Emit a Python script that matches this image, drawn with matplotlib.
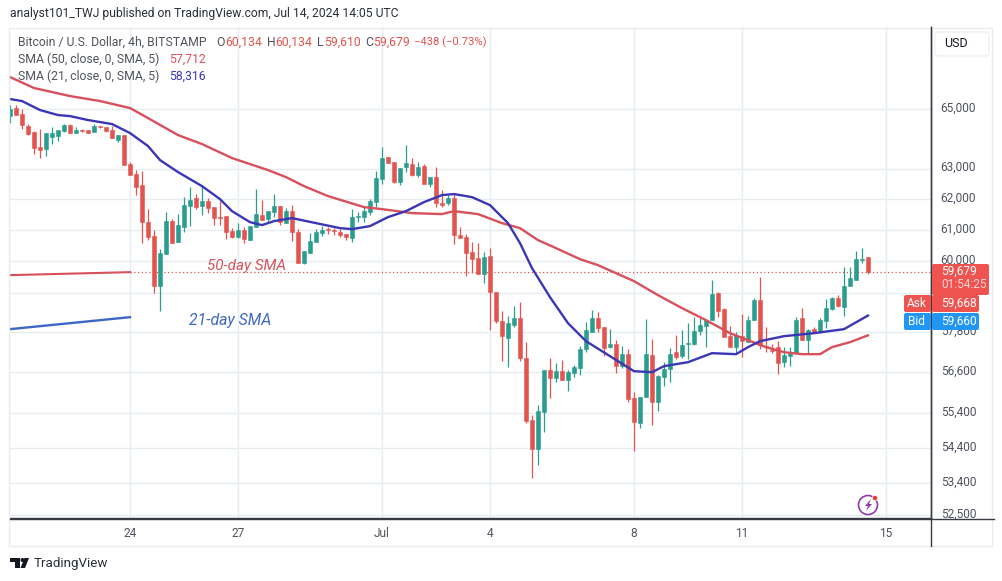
import matplotlib
matplotlib.use('Agg')
import matplotlib.pyplot as plt
from matplotlib.patches import Rectangle, FancyBboxPatch, Circle, Polygon
from matplotlib.lines import Line2D
from matplotlib.transforms import Affine2D, ScaledTranslation

# 4h bars, bar 0 is Jun 24 00:00, bar -20 is the first one visible
first_bar = -20
opens = [64762,65034,64830,64420,64218,63714,63647,64050,64084,64252,64455,64185,64286,64286,64218,64420,64387,64286,63949,64117,
         63147,62816,62454,61250,60800,59224,60228,61283,60610,61090,61768,62028,61768,61930,61735,61412,61444,60960,60770,60993,
         60673,61090,61476,61347,61573,61768,61218,61605,60930,59945,60260,60610,60897,61025,60993,60930,60865,60737,61412,61412,
         61573,61897,62651,63380,63213,62552,63047,63147,62783,63080,62486,62717,61865,61865,62028,60833,60770,60292,60102,59600,
         60165,59037,58143,57626,58021,58235,57024,55195,54360,55428,56665,56427,56635,56368,56575,56725,57294,57808,58235,57960,
         57355,57445,56785,57144,55837,55108,55866,57114,55720,56457,56695,57204,57084,57445,57445,57839,57990,58174,59006,58512,
         57687,57355,57687,57506,58174,58789,57385,57264,57355,56904,57084,57174,58235,57566,57900,57808,58143,58512,58851,58573,
         59224,59411,60039,60134]
highs = [65137,65137,65000,64490,64252,64320,64185,64387,64286,64490,64490,64387,64320,64286,64490,64420,64387,64420,64117,64117,
         63213,62948,62915,61670,60993,60387,61573,61347,61509,62060,62388,62160,62420,62028,61735,61930,61444,61057,61218,61090,
         61122,62323,61963,61605,62160,61768,61703,61800,61025,60323,60897,61025,61122,61090,61057,61025,60865,61670,61573,61735,
         61995,62915,63714,63380,63213,63014,63781,63347,63213,63147,62717,63047,62290,62127,62192,61090,60865,60610,60578,60292,
         60419,59037,58450,58297,58604,58727,57506,55340,55632,56665,57024,56874,56964,56665,56815,57385,58113,58481,58420,57960,
         57900,57566,57385,57294,56013,55866,58205,57596,56516,56904,57324,57717,57869,58082,58266,58235,58205,59411,59037,58543,
         57990,57808,58358,58297,58851,59505,57960,57445,57536,57355,57355,58266,58543,57900,57960,58235,58820,58882,58944,59818,
         59818,60323,60419,60134]
lows = [64523,64795,64320,64117,63480,63347,63414,63815,63916,64218,64185,64185,64218,64185,64218,64353,64218,64016,63882,63114,
        62783,62130,60578,60673,59006,58450,60228,60578,60610,60930,61122,61670,61476,61541,61154,61154,60705,60737,60737,60578,
        60673,61090,61315,61250,61412,61154,61218,60640,59945,59913,60260,60610,60800,60865,60833,60770,60673,60610,61250,61250,
        61476,61735,62486,63180,62520,62454,62882,62750,62717,62486,62388,61735,61735,61800,60546,60737,59536,59630,59600,59318,
        57869,58082,56934,56755,57960,56934,55108,53537,53905,54847,55837,56309,56368,56042,56457,56516,57204,57808,57808,57084,
        57324,56575,56725,55720,54303,54963,55866,55050,55457,56190,56309,56994,57024,56994,57415,57717,57355,58174,58266,57657,
        57355,57174,57054,57506,58174,57294,57204,57174,56546,56755,56785,57174,57566,57174,57778,57778,57930,58481,58573,58297,
        59224,59411,59945,59610]
closes = [65000,64795,64455,64150,63680,63614,64185,64185,64286,64455,64185,64286,64252,64185,64420,64387,64252,64016,64117,63114,
          62783,62388,61250,60770,59224,60260,61283,60578,61154,61800,61963,61735,61930,61703,61380,61380,60930,60770,60993,60705,
          61122,61509,61315,61605,61768,61250,61605,60930,59945,60323,60640,60930,60993,60993,60960,60833,60770,61412,61444,61605,
          61930,62684,63347,63180,62552,63014,63180,62783,63047,62486,62717,61865,61800,62028,60833,60737,60260,60070,59600,60134,
          59037,58143,57687,58082,58235,57024,55166,54360,55457,56665,56427,56635,56368,56605,56755,57294,57869,58235,57930,57324,
          57445,56785,57144,55807,55137,55866,57144,55720,56486,56695,57144,57054,57415,57475,57839,58021,58174,58975,58450,57657,
          57355,57717,57536,58174,58789,57415,57355,57234,56874,57114,57204,58174,57566,57869,57778,58174,58543,58851,58604,59224,
          59474,60070,60070,59679]

sma50_bars = [-20,-16,-10,-5,0,3,8,12,17,23,26,29,33,39,42,47,52,54,58,62,65,68,71,75,78,81,84,88,92,96,100,103,106,109,112,115,117,120,123]
sma50 = [66103,65722,65445,65274,65034,64693,64117,63815,63347,62948,62717,62420,62094,61735,61670,61541,61509,61605,61509,61218,61057,60673,60419,
         60070,59881,59630,59380,58944,58543,58174,57778,57566,57355,57204,57144,57144,57355,57506,57712]
sma21_bars = [-20,-18,-15,-12,-10,-7,-3,0,3,5,8,12,15,17,20,22,24,27,31,35,37,40,43,46,49,52,54,57,60,63,65,67,70,73,76,80,84,87,89,93,97,101,103,105,109,114,119,123]
sma21 = [65343,65274,64966,64795,64760,64625,64490,64185,63748,63280,62882,62420,61995,61605,61250,61154,61283,61380,61218,61057,61025,61122,61412,
         61605,61897,62127,62160,62060,61800,61218,60578,59787,58882,58082,57536,57084,56635,56605,56785,56904,57174,57144,57355,57536,57687,57778,57900,58316]

# the two lines the analyst drew as a key
key_bars = [-20, 0]
key50 = [59567, 59661]
key21 = [57900, 58266]

last_price = 59679
y_ticks = [65000, 63000, 62000, 61000, 60000, 59000, 57800, 56600, 55400, 54400, 53400, 52500]
y_labels = ['65,000', '63,000', '62,000', '61,000', '60,000', '', '57,800', '56,600', '55,400', '54,400', '53,400', '52,500']
x_ticks = [0, 18, 42, 60, 84, 102, 126]
x_labels = ['24', '27', 'Jul', '4', '8', '11', '15']

UP = '#2a9d8f'
DOWN = '#e2544f'
RED_LINE = '#d8505a'
BLUE_LINE = '#3a36b5'
GRID = '#e6edf1'
TXT = '#50535e'

plt.rcParams['font.family'] = ['Roboto', 'DejaVu Sans']

W, H = 1003, 581
fig = plt.figure(figsize=(W / 100, H / 100), dpi=100)
# pixel coordinates, origin top left, for the chart furniture
px = Affine2D().scale(1 / W, -1 / H).translate(0, 1) + fig.transFigure

ax = fig.add_axes([10 / W, 1 - 518 / H, 921 / W, 491 / H])
ax.set_yscale('log')
ax.set_xlim(-20, 133.5)
ax.set_ylim(52430, 67864)
ax.minorticks_off()
ax.yaxis.tick_right()
ax.set_yticks(y_ticks)
ax.set_yticklabels(y_labels)
ax.set_xticks(x_ticks)
ax.set_xticklabels(x_labels)
ax.tick_params(axis='y', length=0, pad=7, labelsize=8.6, labelcolor=TXT, which='both')
ax.tick_params(axis='x', length=0, pad=6.5, labelsize=8.6, labelcolor=TXT)
ax.grid(True, color=GRID, linewidth=1)
ax.set_axisbelow(True)
for s in ['top', 'left']:
    ax.spines[s].set_visible(False)
for s in ['bottom', 'right']:
    ax.spines[s].set_color('#363a45')
    ax.spines[s].set_linewidth(1)
# price labels sit a little above their grid lines
lift = ScaledTranslation(0, 2.5 / 100, fig.dpi_scale_trans)
for lab in ax.get_yticklabels():
    lab.set_transform(lab.get_transform() + lift)

bars = list(range(first_bar, first_bar + len(opens)))
for i, b in enumerate(bars):
    col = UP if closes[i] >= opens[i] else DOWN
    ax.vlines(b, lows[i], highs[i], color=col, linewidth=0.9, zorder=2)
    ax.bar(b, abs(closes[i] - opens[i]), bottom=min(opens[i], closes[i]), width=0.72,
           color=col, edgecolor=col, linewidth=0.4, zorder=3)

ax.plot(sma50_bars, sma50, color=RED_LINE, linewidth=1.7, zorder=4, solid_joinstyle='round')
ax.plot(sma21_bars, sma21, color=BLUE_LINE, linewidth=1.7, zorder=5, solid_joinstyle='round')
ax.plot(key_bars, key50, color=RED_LINE, linewidth=1.5)
ax.plot(key_bars, key21, color='#3f68c4', linewidth=1.7)
ax.plot([0, 133.5], [last_price, last_price], color=DOWN, linewidth=0.9, linestyle=(0, (1, 2)), zorder=1)

ax.text(207, 266, '50-day SMA', transform=px, fontsize=11, style='italic', color=RED_LINE, va='center')
ax.text(189, 320, '21-day SMA', transform=px, fontsize=11.4, style='italic', color='#3f68c4', va='center')

# card border, extended axis lines
fig.add_artist(Rectangle((933, 519), 59, 26, transform=px, facecolor='white', edgecolor='none', zorder=5))
fig.add_artist(Rectangle((9.5, 27.5), 983, 518, transform=px, fill=False, edgecolor='#e9ebee', linewidth=1))
fig.add_artist(Line2D([10, 994], [518.5, 518.5], transform=px, color='#363a45', linewidth=1, zorder=6))
fig.add_artist(Line2D([931.5, 931.5], [27, 546], transform=px, color='#363a45', linewidth=1, zorder=6))

# header
fig.text(10, 14, 'analyst101_TWJ published on TradingView.com, Jul 14, 2024 14:05 UTC', transform=px,
         fontsize=8.7, color='#2a2e39', va='center')
fig.text(18, 42, 'Bitcoin / U.S. Dollar, 4h, BITSTAMP', transform=px, fontsize=8.8, color=TXT, va='center')
ohlc_k = ['O', 'H', 'L', 'C']
ohlc_x = [216, 267, 317, 365]
ohlc_vx = [225, 275, 324, 373]
ohlc_v = ['60,134', '60,134', '59,610', '59,679']
for xp, k, vx, v in zip(ohlc_x, ohlc_k, ohlc_vx, ohlc_v):
    fig.text(xp, 42, k, transform=px, fontsize=8.8, color=TXT, va='center')
    fig.text(vx, 42, v, transform=px, fontsize=8.8, color=DOWN, va='center')
fig.text(414, 42, '\u2212438 (\u22120.73%)', transform=px, fontsize=8.1, color=DOWN, va='center')
fig.text(18, 59, 'SMA (50, close, 0, SMA, 5)', transform=px, fontsize=8.8, color=TXT, va='center')
fig.text(169, 59, '57,712', transform=px, fontsize=8.8, color=RED_LINE, va='center')
fig.text(18, 76, 'SMA (21, close, 0, SMA, 5)', transform=px, fontsize=8.8, color=TXT, va='center')
fig.text(169, 76, '58,316', transform=px, fontsize=8.8, color=BLUE_LINE, va='center')

# USD button
fig.add_artist(FancyBboxPatch((935, 32), 54, 24, boxstyle='round,pad=0,rounding_size=3', transform=px,
                              facecolor='white', edgecolor='#eceef2', linewidth=1, zorder=6))
fig.text(944, 43.5, 'USD', transform=px, fontsize=9, color='#131722', va='center', zorder=7)

# price tags
def tag(x0, y0, w, h, col):
    fig.add_artist(FancyBboxPatch((x0, y0), w, h, boxstyle='round,pad=0,rounding_size=2', transform=px,
                                  facecolor=col, edgecolor='none', zorder=7))

tag(932, 264, 57, 31, '#ef5350')
tag(904, 295, 27, 17, '#ef5350')
tag(932, 295, 47, 17, '#ef5350')
tag(904, 313, 27, 17, '#2196f3')
tag(932, 313, 47, 17, '#2196f3')
for xp, yp, s, c in [(941, 271.5, '59,679', 'white'), (941, 285, '01:54:25', '#fbd5d4'),
                     (941, 303.5, '59,668', 'white'), (941, 321.5, '59,660', 'white'),
                     (907, 303.5, 'Ask', 'white'), (908, 321.5, 'Bid', 'white')]:
    fig.text(xp, yp, s, transform=px, fontsize=8.6, color=c, va='center', zorder=8)

# lightning badge
fig.add_artist(Circle((868, 505), 9.5, transform=px, fill=False, edgecolor='#8e3aa8', linewidth=1.2, zorder=6))
fig.add_artist(Polygon([(871, 499), (865, 506), (868, 506), (866, 511), (872, 504), (869, 504)], transform=px,
                       facecolor='#8e3aa8', edgecolor='none', zorder=6))
fig.add_artist(Circle((875, 498), 2.6, transform=px, facecolor='#e53935', edgecolor='white', linewidth=0.5, zorder=7))

# footer logo
fig.add_artist(Polygon([(10, 558), (20, 558), (20, 568), (15, 568), (15, 562), (10, 562)], transform=px,
                       facecolor='#131722', edgecolor='none'))
fig.add_artist(Circle((22.5, 560), 2, transform=px, facecolor='#131722', edgecolor='none'))
fig.add_artist(Polygon([(24.5, 558), (29, 558), (25, 568), (20.5, 568)], transform=px,
                       facecolor='#131722', edgecolor='none'))
fig.text(34, 563, 'TradingView', transform=px, fontsize=9.6, color='#2a2e39', va='center')

fig.savefig('out.png', dpi=100)
